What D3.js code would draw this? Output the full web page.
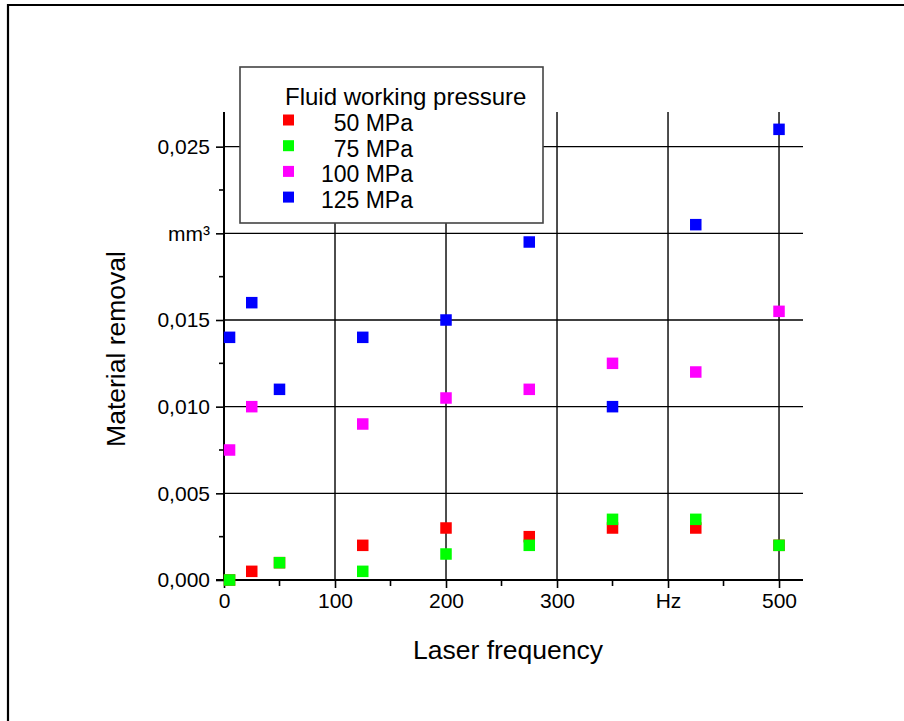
<!DOCTYPE html>
<html>
<head>
<meta charset="utf-8">
<script src="https://cdn.jsdelivr.net/npm/d3@7"></script>
<style>
  html, body { margin: 0; padding: 0; background: #fff; }
  svg { display: block; font-family: "Liberation Sans", Arial, sans-serif; }
</style>
</head>
<body>
<svg id="chart" width="904" height="721"></svg>
<script>
// ---- data ----
const frequencies = [5, 25, 50, 125, 200, 275, 350, 425, 500];
const series50  = [0, 0.0005, 0.001, 0.002, 0.003, 0.0025, 0.003, 0.003, 0.002];
const series75  = [0, null, 0.001, 0.0005, 0.0015, 0.002, 0.0035, 0.0035, 0.002];
const series100 = [0.0075, 0.010, null, 0.009, 0.0105, 0.011, 0.0125, 0.012, 0.0155];
const series125 = [0.014, 0.016, 0.011, 0.014, 0.015, 0.0195, 0.010, 0.0205, 0.026];
const seriesNames = ["50 MPa", "75 MPa", "100 MPa", "125 MPa"];
const seriesColors = ["#ff0000", "#00ff00", "#ff00ff", "#0000ff"];
const xTicks = [0, 100, 200, 300, 400, 500];
const xTickLabels = ["0", "100", "200", "300", "Hz", "500"];
const xMinorTicks = [50, 150, 250, 350, 450];
const yTicks = [0, 0.005, 0.010, 0.015, 0.020, 0.025];
const yTickLabels = ["0,000", "0,005", "0,010", "0,015", "mm³", "0,025"];
const yMinorTicks = [0.0025, 0.0075, 0.0125, 0.0175, 0.0225];
const legendTitle = "Fluid working pressure";
const xTitle = "Laser frequency";
const yTitle = "Material removal";

const allSeries = [series50, series75, series100, series125];

const svg = d3.select("#chart");

// outer frame
svg.append("path")
  .attr("d", "M8,721 L8,5 L904,5")
  .attr("fill", "none").attr("stroke", "#000").attr("stroke-width", 2.2);

const pLeft = 224, pRight = 803, pTop = 112, pBottom = 580;
const x = d3.scaleLinear().domain([0, 521.6]).range([pLeft, pRight]);
const y = d3.scaleLinear().domain([0, 0.027]).range([pBottom, pTop]);

// gridlines
const grid = svg.append("g").attr("stroke", "#000").attr("stroke-width", 1.4);
grid.selectAll("line.vg").data(xTicks.filter(d => d > 0)).join("line")
  .attr("class", "vg")
  .attr("x1", d => x(d)).attr("x2", d => x(d))
  .attr("y1", y(0)).attr("y2", pTop);
grid.selectAll("line.hg").data(yTicks.filter(d => d > 0)).join("line")
  .attr("class", "hg")
  .attr("x1", x(0)).attr("x2", pRight)
  .attr("y1", d => y(d)).attr("y2", d => y(d));

// axes
const xAxis = d3.axisBottom(x).tickValues(xTicks)
  .tickFormat((d, i) => xTickLabels[i]).tickSize(8).tickPadding(5).tickSizeOuter(0);
const gx = svg.append("g").attr("transform", `translate(0,${pBottom})`).call(xAxis);
gx.select(".domain").attr("d", `M${pLeft - 8},0H${pRight}`).attr("stroke-width", 2);
gx.selectAll(".tick line").attr("stroke-width", 1.6);
gx.selectAll(".tick text").attr("font-size", 21).attr("fill", "#000")
  .attr("font-family", "Liberation Sans, Arial, sans-serif");
gx.selectAll("line.xm").data(xMinorTicks).join("line")
  .attr("class", "xm")
  .attr("x1", d => x(d)).attr("x2", d => x(d)).attr("y1", 0).attr("y2", 6)
  .attr("stroke", "#000").attr("stroke-width", 1.6);

const yAxis = d3.axisLeft(y).tickValues(yTicks)
  .tickFormat((d, i) => yTickLabels[i]).tickSize(8).tickPadding(6).tickSizeOuter(0);
const gy = svg.append("g").attr("transform", `translate(${pLeft},0)`).call(yAxis);
gy.select(".domain").attr("d", `M0,${pTop}V${pBottom}`).attr("stroke-width", 2);
gy.selectAll(".tick line").attr("stroke-width", 1.6);
gy.selectAll(".tick text").attr("font-size", 21).attr("fill", "#000")
  .attr("font-family", "Liberation Sans, Arial, sans-serif");
gy.selectAll("line.ym").data(yMinorTicks).join("line")
  .attr("class", "ym")
  .attr("x1", -5).attr("x2", 0).attr("y1", d => y(d)).attr("y2", d => y(d))
  .attr("stroke", "#000").attr("stroke-width", 1.6);

// axis titles
svg.append("text").attr("x", 508).attr("y", 659).attr("text-anchor", "middle")
  .attr("font-size", 26.5).text(xTitle);
svg.append("text").attr("transform", "translate(125,349) rotate(-90)")
  .attr("text-anchor", "middle").attr("font-size", 26.5).text(yTitle);

// legend
const lg = svg.append("g");
lg.append("rect").attr("x", 240).attr("y", 67).attr("width", 303).attr("height", 156)
  .attr("fill", "#fff").attr("stroke", "#444").attr("stroke-width", 1.6);
lg.append("text").attr("x", 285).attr("y", 105).attr("font-size", 24).text(legendTitle);
seriesNames.forEach((name, i) => {
  const by = 131 + i * 25.7;
  lg.append("rect").attr("x", 283).attr("y", by - 16.5).attr("width", 11).attr("height", 11)
    .attr("fill", seriesColors[i]);
  lg.append("text").attr("x", 413).attr("y", by).attr("text-anchor", "end")
    .attr("font-size", 23).text(name);
});

// data points
const sz = 11.5;
allSeries.forEach((vals, si) => {
  const pts = frequencies.map((f, i) => ({ f, v: vals[i] })).filter(d => d.v !== null);
  svg.append("g").selectAll("rect").data(pts).join("rect")
    .attr("x", d => x(d.f) - sz / 2).attr("y", d => y(d.v) - sz / 2)
    .attr("width", sz).attr("height", sz).attr("fill", seriesColors[si]);
});
</script>
</body>
</html>
